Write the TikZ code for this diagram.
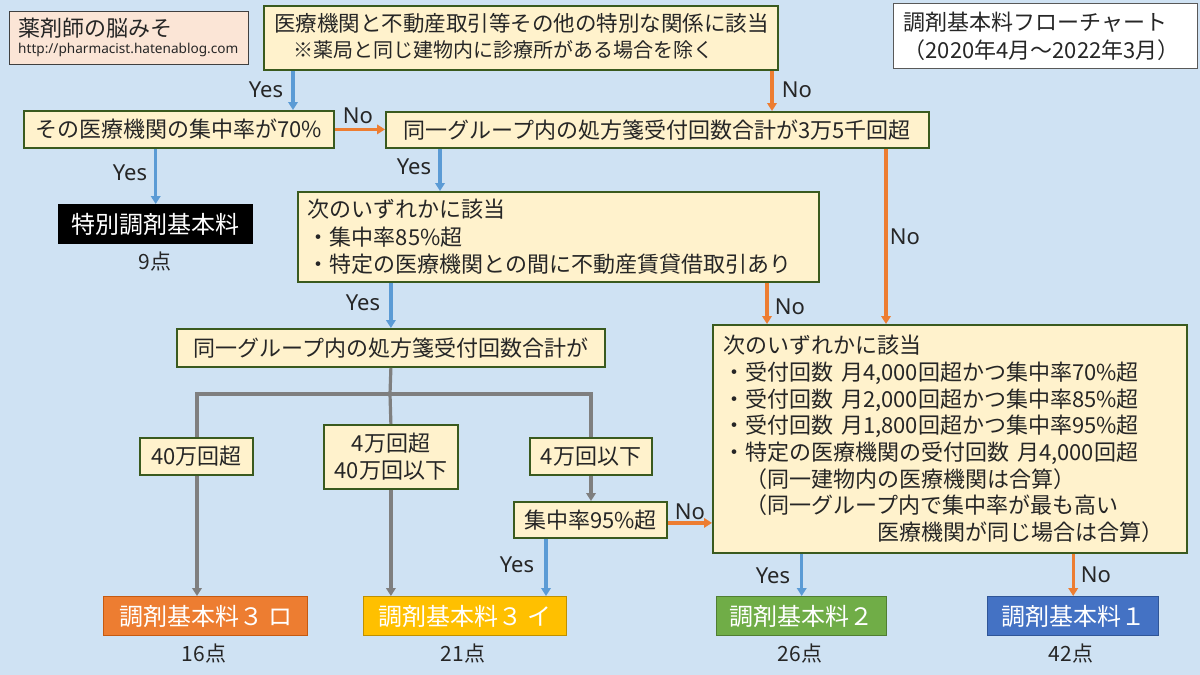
\documentclass[tikz,border=0pt]{standalone}
\usepackage{fontspec}
\setmainfont{Noto Sans CJK JP}
\newfontfamily\latinfont{Noto Sans}
\usetikzlibrary{arrows.meta}
\definecolor{bgc}{HTML}{CFE2F3}
\definecolor{boxfill}{HTML}{FFF2CC}
\definecolor{boxline}{HTML}{3A5A1E}
\definecolor{txt}{HTML}{262626}
\definecolor{pinkfill}{HTML}{FBE5D6}
\definecolor{pinkline}{HTML}{404040}
\definecolor{titleline}{HTML}{595959}
\definecolor{arblue}{HTML}{5B9BD5}
\definecolor{arorange}{HTML}{ED7D31}
\definecolor{argray}{HTML}{7F7F7F}
\definecolor{rorange}{HTML}{ED7D31}
\definecolor{rorangeD}{HTML}{C55A11}
\definecolor{ryellow}{HTML}{FFC000}
\definecolor{ryellowD}{HTML}{BF9000}
\definecolor{rgreen}{HTML}{70AD47}
\definecolor{rgreenD}{HTML}{507E32}
\definecolor{rblue}{HTML}{4472C4}
\definecolor{rblueD}{HTML}{2F5597}
\newcommand\myfs[2]{\fontsize{#1}{#2}\selectfont}
\begin{document}
\begin{tikzpicture}[x=1pt,y=-1pt,
  box/.style={draw=boxline, fill=boxfill, line width=1.8pt, text=txt, inner sep=0pt, anchor=north west, font=\myfs{22}{27.5}},
  pbox/.style={draw=pinkline, fill=pinkfill, line width=1.4pt, inner sep=0pt, anchor=north west},
  tbox/.style={draw=titleline, fill=white, line width=1.4pt, text=txt, anchor=north west, font=\myfs{22}{28}, align=left, inner ysep=0pt, inner xsep=10pt},
  res/.style={anchor=north west, inner sep=0pt, text=white, font=\myfs{24}{28}, line width=1.4pt, minimum height=39},
  pts/.style={text=txt, font=\myfs{21}{24}, inner sep=0pt},
  lbl/.style={text=txt, font=\latinfont\myfs{22}{26}, inner sep=0pt},
  txtw/.style={text=txt, inner sep=0pt, anchor=west},
  arr/.style={line width=3.2pt, -{Triangle[length=8pt,width=9.5pt]}},
  ab/.style={arr, draw=arblue},
  ao/.style={arr, draw=arorange},
  ag/.style={arr, draw=argray},
  lg/.style={line width=3.2pt, draw=argray},
]
\fill[bgc] (0,0) rectangle (1200,675);
\useasboundingbox (0,0) rectangle (1200,675);

% header boxes
\node[pbox, minimum width=239, minimum height=53] (brand) at (9,11) {};
\node[txtw, font=\myfs{22}{26}] (brandname) at (18,28) {薬剤師の脳みそ};
\node[txtw, font=\latinfont\myfs{13.6}{16}] (brandurl) at (18,50) {http://pharmacist.hatenablog.com};

\node[box, minimum width=514, minimum height=64] (top) at (263,5) {};
\node[txtw, font=\myfs{21.5}{26}] (top1) at (274,23) {医療機関と不動産取引等その他の特別な関係に該当};
\node[txtw, font=\myfs{20}{24}] (top2) at (293,50) {※薬局と同じ建物内に診療所がある場合を除く};

\node[tbox, minimum width=304, minimum height=65, text width=284] (title) at (893,3) {調剤基本料フローチャート\\（2020年4月～2022年3月）};

% decision boxes
\node[box, minimum width=310, minimum height=37] (A) at (23,110) {その医療機関の集中率が70\%};
\node[box, minimum width=543, minimum height=36] (B) at (385,111) {同一グループ内の処方箋受付回数合計が3万5千回超};
\node[anchor=north west, fill=black, minimum width=195, minimum height=40, inner sep=0pt, text=white, font=\myfs{24}{28}] (S) at (58,204) {特別調剤基本料};
\node[pts] (Sp) at (155,262) {9点};

\node[box, minimum width=521, minimum height=90, align=left, text width=501, inner xsep=10pt] (C) at (297,191) {次のいずれかに該当\\・集中率85\%超\\・特定の医療機関との間に不動産賃貸借取引あり};

\node[box, minimum width=428, minimum height=38] (D) at (176,328) {同一グループ内の処方箋受付回数合計が};
\node[box, minimum width=113, minimum height=37] (b1) at (139,437) {40万回超};
\node[box, minimum width=134, minimum height=64, align=center, font=\myfs{22}{27}] (b2) at (323,424) {4万回超\\40万回以下};
\node[box, minimum width=122, minimum height=37] (b3) at (529,437) {4万回以下};
\node[box, minimum width=153, minimum height=36] (b4) at (513,501) {集中率95\%超};

\node[box, minimum width=474, minimum height=228, align=left, text width=452, inner xsep=11pt, font=\myfs{22}{26.7}] (E) at (712,324) {次のいずれかに該当\\・受付回数 月4,000回超かつ集中率70\%超\\・受付回数 月2,000回超かつ集中率85\%超\\・受付回数 月1,800回超かつ集中率95\%超\\・特定の医療機関の受付回数 月4,000回超\\　（同一建物内の医療機関は合算）\\　（同一グループ内で集中率が最も高い\\　　　　　　　医療機関が同じ場合は合算）};

% results
\node[res, fill=rorange, draw=rorangeD, minimum width=204] (R3b) at (103,596) {調剤基本料３ ロ};
\node[res, fill=ryellow, draw=ryellowD, minimum width=203] (R3a) at (363,596) {調剤基本料３ イ};
\node[res, fill=rgreen, draw=rgreenD, minimum width=170] (R2) at (716,596) {調剤基本料２};
\node[res, fill=rblue, draw=rblueD, minimum width=171] (R1) at (987,596) {調剤基本料１};
\node[pts] (p3b) at (204,654) {16点};
\node[pts] (p3a) at (463,654) {21点};
\node[pts] (p2) at (800,654) {26点};
\node[pts] (p1) at (1071,654) {42点};

% connectors
\draw[ab] ([xshift=30pt]top.south west) -- ([xshift=30pt]top.south west |- A.north);
\draw[ao] ([xshift=509pt]top.south west) -- ([xshift=509pt]top.south west |- B.north);
\draw[ao] (A.east) -- (A.east -| B.west);
\draw[ab] (S.north |- A.south) -- (S.north);
\draw[ab] ([xshift=55pt]B.south west) -- ([xshift=55pt]B.south west |- C.north);
\draw[ao] ([xshift=501pt]B.south west) -- ([xshift=501pt]B.south west |- E.north);
\draw[ab] (D.north |- C.south) -- (D.north);
\draw[ao] ([xshift=470pt]C.south west) -- ([xshift=470pt]C.south west |- E.north);

\coordinate (jc) at (390,394);
\coordinate (jl) at (197,394);
\coordinate (jr) at (591,394);
\draw[lg] (D.south) -- (jc);
\draw[lg, line cap=rect] (jl) -- (jr);
\draw[lg] (jl) -- (jl |- b1.north);
\draw[ag] (b1.south -| jl) -- (jl |- R3b.north);
\draw[lg] (jc) -- (b2.north);
\draw[ag] (b2.south) -- (b2.south |- R3a.north);
\draw[lg] (jr) -- (jr |- b3.north);
\draw[ag] (b3.south -| jr) -- (jr |- b4.north);
\draw[ao] ([yshift=-3pt]b4.east) -- ([yshift=-3pt]b4.east -| E.west);
\draw[ab] ([xshift=33pt]b4.south west) -- ([xshift=33pt]b4.south west |- R3a.north);
\draw[ab] (R2.north |- E.south) -- (R2.north);
\draw[ao] (R1.north |- E.south) -- (R1.north);

% labels
\node[lbl] (l1) at (266,90) {Yes};
\node[lbl] (l2) at (797,90) {No};
\node[lbl] (l3) at (358,116) {No};
\node[lbl] (l4) at (130,173) {Yes};
\node[lbl] (l5) at (414,167) {Yes};
\node[lbl] (l6) at (905,237) {No};
\node[lbl] (l7) at (363,303) {Yes};
\node[lbl] (l8) at (790,307) {No};
\node[lbl] (l9) at (690,512) {No};
\node[lbl] (l10) at (517,565) {Yes};
\node[lbl] (l11) at (773,576) {Yes};
\node[lbl] (l12) at (1096,575) {No};
\end{tikzpicture}
\end{document}
